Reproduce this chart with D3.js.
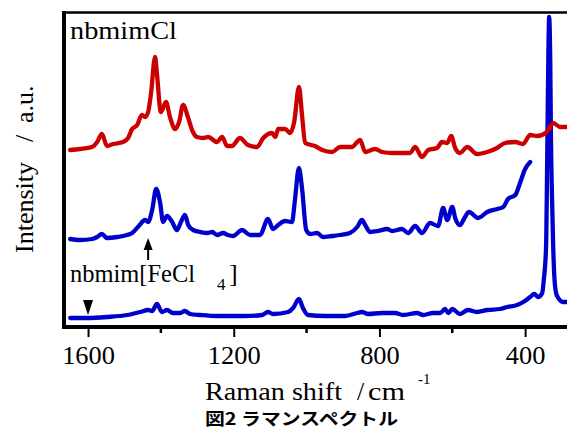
<!DOCTYPE html>
<html>
<head>
<meta charset="utf-8">
<script src="https://cdn.jsdelivr.net/npm/d3@7"></script>
<style>
  html, body { margin: 0; padding: 0; background: #fff; }
  svg { display: block; }
  text { font-family: "Liberation Serif", "Times New Roman", serif; fill: #000; }
</style>
</head>
<body>
<svg id="chart" width="567" height="430"></svg>
<script>
// ---- Data (Raman shift in cm^-1, intensity in arbitrary units) ----
const xTickValues = [1600, 1200, 800, 400];
const xMinorTicks = [1400, 1000, 600];
const xTickLabels = ["1600", "1200", "800", "400"];

// nbmimCl (red)
const clShift = [1649,1622,1589,1575,1562,1548,1531,1504,1490,1479,1465,1452,1443,1435,1427,1416,1411,1400,1386,1375,1361,1350,1339,1325,1312,1301,1284,1270,1246,1232,1218,1205,1183,1161,1136,1119,1095,1086,1078,1059,1045,1034,1021,1012,1004,977,957,930,908,875,861,853,839,812,793,765,735,716,702,683,666,642,628,614,603,592,579,559,532,504,477,455,427,406,386,367,340,323,304,285];
const clInt   = [176,177,179,184,192,180,182,184,188,197,201,211,209,214,233,269,253,214,224,209,197,204,221,208,194,189,188,189,184,189,180,180,188,181,179,188,193,189,197,197,193,204,239,209,183,180,176,174,179,179,184,186,174,177,174,173,173,173,179,169,176,178,184,183,190,178,173,179,172,174,178,183,184,182,191,190,194,203,199,199];

// middle blue trace
const midShift = [1649,1622,1589,1575,1562,1548,1520,1493,1479,1463,1443,1435,1424,1413,1402,1394,1383,1369,1356,1345,1334,1325,1312,1292,1273,1259,1246,1229,1216,1202,1177,1155,1128,1106,1092,1078,1059,1040,1032,1021,1012,1001,990,971,955,930,908,881,861,848,839,826,804,779,765,738,721,702,683,661,639,625,614,600,592,579,565,554,529,504,477,460,447,427,414,400,386];
const midInt   = [87,86,87,89,92,88,89,91,93,99,106,104,116,137,123,104,110,104,96,104,111,101,96,94,93,94,91,93,91,90,96,91,91,107,97,101,105,104,126,158,136,96,92,93,89,90,91,93,99,106,101,94,95,97,95,97,93,100,93,103,100,118,106,119,108,101,109,114,108,114,117,119,127,131,143,157,164];

// nbmim[FeCl4] (bottom blue)
const feShift = [1649,1603,1548,1493,1457,1435,1424,1411,1397,1383,1367,1347,1334,1320,1292,1246,1210,1169,1122,1106,1092,1051,1037,1021,1010,996,949,894,861,848,831,793,757,735,697,680,653,633,620,611,600,579,557,532,504,469,449,422,405,386,375,364,353,348,345,342,340,337,334,331,329,326,323,320,315,309,296,285];
const feInt   = [8,8,9,11,14,16,15,22,14,16,13,13,15,12,11,10,10,10,11,14,12,14,18,27,18,11,10,10,13,14,12,13,13,11,13,11,13,13,17,13,17,12,16,14,16,17,19,21,24,29,32,29,33,49,61,86,146,246,309,266,186,126,81,51,33,28,24,24];

// annotation anchors (Raman shift, intensity)
const upArrow = { shift: 1435, tip: 88, base: 66 };
const downMark = { shift: 1600, top: 26, tip: 11 };

// ---- Scales ----
const svg = d3.select("#chart");
const x = d3.scaleLinear().domain([1666, 285]).range([64, 567]);
const y = d3.scaleLinear().domain([0, 314]).range([326, 12]);

const line = d3.line()
  .x(d => x(d[0]))
  .y(d => y(d[1]))
  .curve(d3.curveMonotoneX);

const zip = (a, b) => a.map((v, i) => [v, b[i]]);

svg.append("defs").append("clipPath").attr("id", "clip")
  .append("rect").attr("x", 64).attr("y", 12).attr("width", 503).attr("height", 314);

const plot = svg.append("g").attr("clip-path", "url(#clip)");

plot.append("path").datum(zip(feShift, feInt))
  .attr("d", line).attr("fill", "none").attr("stroke", "#0000cc")
  .attr("stroke-width", 4.3).attr("stroke-linejoin", "round").attr("stroke-linecap", "round");
plot.append("path").datum(zip(midShift, midInt))
  .attr("d", line).attr("fill", "none").attr("stroke", "#0000cc")
  .attr("stroke-width", 4.3).attr("stroke-linejoin", "round").attr("stroke-linecap", "round");
plot.append("path").datum(zip(clShift, clInt))
  .attr("d", line).attr("fill", "none").attr("stroke", "#cc0000")
  .attr("stroke-width", 4.3).attr("stroke-linejoin", "round").attr("stroke-linecap", "round");

// ---- Frame ----
svg.append("line").attr("x1", 62).attr("x2", 567).attr("y1", 12.5).attr("y2", 12.5)
  .attr("stroke", "#000").attr("stroke-width", 2.5);
svg.append("line").attr("x1", 64).attr("x2", 64).attr("y1", 11).attr("y2", 328)
  .attr("stroke", "#000").attr("stroke-width", 4);

// ---- Bottom axis ----
const xAxis = d3.axisBottom(x).tickValues(xTickValues)
  .tickFormat((d, i) => xTickLabels[i]).tickSize(10).tickSizeOuter(0);
const gx = svg.append("g").attr("transform", "translate(0,327)").call(xAxis)
  .attr("font-family", '"Liberation Serif", "Times New Roman", serif');
gx.select(".domain").remove();
gx.selectAll(".tick line").attr("stroke", "#000").attr("stroke-width", 2);
gx.selectAll(".tick text")
  .attr("y", 37).attr("dy", null)
  .style("font-family", '"Liberation Serif", "Times New Roman", serif')
  .style("font-size", "25px")
  .attr("textLength", (d, i) => xTickLabels[i].length * 13.2)
  .attr("lengthAdjust", "spacingAndGlyphs");
svg.append("line").attr("x1", 62).attr("x2", 567).attr("y1", 327).attr("y2", 327)
  .attr("stroke", "#000").attr("stroke-width", 4);
svg.selectAll(".minor").data(xMinorTicks).enter().append("line")
  .attr("class", "minor")
  .attr("x1", d => x(d)).attr("x2", d => x(d))
  .attr("y1", 327).attr("y2", 333)
  .attr("stroke", "#000").attr("stroke-width", 2.5);

// ---- Annotations ----
const ax = x(upArrow.shift);
svg.append("line").attr("x1", ax).attr("x2", ax)
  .attr("y1", y(upArrow.base)).attr("y2", y(upArrow.tip) + 8)
  .attr("stroke", "#000").attr("stroke-width", 2);
svg.append("path")
  .attr("d", `M${ax},${y(upArrow.tip)} L${ax - 4.5},${y(upArrow.tip) + 12} L${ax + 4.5},${y(upArrow.tip) + 12} Z`)
  .attr("fill", "#000");
const dx = x(downMark.shift);
svg.append("path")
  .attr("d", `M${dx - 5},${y(downMark.top)} L${dx + 5},${y(downMark.top)} L${dx},${y(downMark.tip)} Z`)
  .attr("fill", "#000");

// ---- Labels ----
svg.append("text").attr("x", 70).attr("y", 39)
  .style("font-size", "26px").attr("textLength", 107).attr("lengthAdjust", "spacingAndGlyphs")
  .text("nbmimCl");

svg.append("text").attr("x", 70).attr("y", 282)
  .style("font-size", "26px").attr("textLength", 125).attr("lengthAdjust", "spacingAndGlyphs")
  .text("nbmim[FeCl");
svg.append("text").attr("x", 217).attr("y", 290).style("font-size", "17px").text("4");
svg.append("text").attr("x", 229).attr("y", 282).style("font-size", "26px").text("]");

// x axis title
svg.append("text").attr("x", 205).attr("y", 400)
  .style("font-size", "26px").attr("textLength", 137).attr("lengthAdjust", "spacingAndGlyphs")
  .text("Raman shift");
svg.append("text").attr("x", 357).attr("y", 400).style("font-size", "26px").text("/");
svg.append("text").attr("x", 368).attr("y", 400)
  .style("font-size", "26px").attr("textLength", 37).attr("lengthAdjust", "spacingAndGlyphs")
  .text("cm");
svg.append("text").attr("x", 418).attr("y", 384).style("font-size", "15px").text("-1");

// y axis title (rotated)
const yl = svg.append("text")
  .attr("transform", "translate(33,253) rotate(-90)")
  .style("font-size", "26px");
yl.append("tspan").attr("x", 0).text("Intensity");
yl.append("tspan").attr("x", 111).text("/");
yl.append("tspan").attr("x", 130).text("a.u.");

// caption
svg.append("text").attr("x", 205).attr("y", 425)
  .style("font-family", '"Noto Sans CJK JP", sans-serif')
  .style("font-size", "17px")
  .style("font-weight", "700")
  .attr("textLength", 193).attr("lengthAdjust", "spacingAndGlyphs")
  .text("図2 ラマンスペクトル");
</script>
</body>
</html>
